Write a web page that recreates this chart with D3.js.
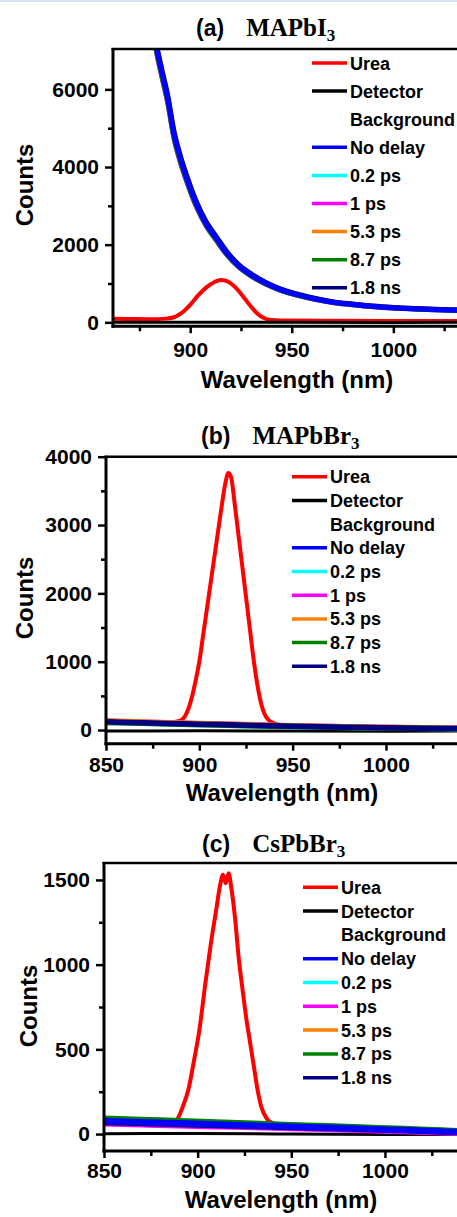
<!DOCTYPE html>
<html>
<head>
<meta charset="utf-8">
<script src="https://cdn.jsdelivr.net/npm/d3@7"></script>
<style>
  body { margin: 0; background: #fff; }
  svg { display: block; }
</style>
</head>
<body>
<div id="viz"></div>
<script>
// Legend entries and colours (shared by all three panels)
const seriesNames = ["Urea", "Detector", "No delay", "0.2 ps", "1 ps", "5.3 ps", "8.7 ps", "1.8 ns"];
const seriesColors = ["#ff0000", "#000000", "#0000ff", "#00ffff", "#ff00ff", "#ff8000", "#008000", "#000080"];

// ---- Panel (a) MAPbI3 ----
const wlUreaA = [862, 870, 880, 888, 892, 896, 900, 904, 908, 912, 915, 918, 921, 924, 927, 930, 933, 936, 940, 950, 970, 1000, 1040];
const ureaA = [90, 85, 80, 95, 130, 250, 450, 700, 900, 1040, 1090, 1060, 960, 800, 600, 400, 230, 120, 60, 45, 40, 35, 30];
const wlDetA = [862, 900, 950, 1000, 1040];
const detA = [0, 3, 0, -3, 0];
const wlA = [880, 883, 886, 889, 892, 895, 899, 903, 908, 913, 918, 924, 930, 937, 944, 952, 960, 970, 980, 990, 1000, 1010, 1020, 1030, 1040];
const noDelayA = [8300, 7200, 6450, 5750, 4850, 4250, 3600, 3050, 2520, 2150, 1780, 1450, 1220, 1010, 850, 720, 620, 520, 460, 410, 375, 350, 330, 315, 300];
const ps02A = [8250, 7150, 6400, 5700, 4800, 4200, 3560, 3020, 2500, 2120, 1760, 1430, 1200, 995, 840, 710, 612, 515, 455, 405, 370, 346, 326, 312, 297];
const ps1A = [8200, 7080, 6330, 5630, 4740, 4150, 3520, 2980, 2470, 2100, 1740, 1420, 1190, 990, 835, 705, 608, 512, 452, 402, 368, 344, 324, 310, 295];
const ps53A = [8320, 7220, 6470, 5770, 4870, 4270, 3620, 3070, 2540, 2165, 1795, 1460, 1230, 1020, 858, 728, 626, 526, 465, 414, 379, 354, 334, 318, 303];
const ps87A = [8220, 7100, 6360, 5660, 4770, 4170, 3540, 3000, 2480, 2110, 1750, 1425, 1195, 992, 838, 708, 610, 513, 453, 404, 369, 345, 325, 311, 296];
const ns18A = [8380, 7280, 6520, 5830, 4930, 4320, 3670, 3110, 2575, 2195, 1820, 1480, 1250, 1035, 870, 738, 635, 532, 470, 418, 382, 357, 336, 320, 305];

// ---- Panel (b) MAPbBr3 ----
const wlUreaB = [850, 860, 870, 880, 884, 888, 890, 892, 894, 896, 898, 900, 902, 904, 906, 908, 910, 912, 914, 915.5, 917, 919, 921, 923, 925, 927, 929, 931, 933, 935, 937, 940, 944, 950, 970, 1000, 1047];
const ureaB = [125, 118, 110, 105, 112, 125, 140, 190, 300, 480, 720, 1000, 1380, 1760, 2140, 2520, 2900, 3280, 3620, 3760, 3700, 3300, 2850, 2400, 1950, 1500, 1050, 680, 400, 230, 150, 100, 70, 55, 45, 35, 20];
const wlDetB = [850, 900, 950, 1000, 1047];
const detB = [-15, -12, -15, -18, -15];
const wlB = [850, 870, 890, 910, 930, 950, 970, 990, 1010, 1030, 1047];
const noDelayB = [125, 110, 97, 84, 70, 58, 48, 40, 33, 26, 21];
const ps02B = [115, 101, 88, 76, 63, 52, 43, 35, 28, 22, 17];
const ps1B = [130, 114, 100, 87, 73, 60, 50, 41, 34, 27, 22];
const ps53B = [135, 118, 103, 90, 76, 63, 52, 43, 36, 29, 23];
const ps87B = [112, 98, 86, 74, 61, 50, 41, 33, 27, 21, 16];
const ns18B = [120, 106, 93, 80, 67, 55, 46, 37, 31, 24, 19];

// ---- Panel (c) CsPbBr3 ----
const wlUreaC = [850, 860, 870, 880, 886, 889, 892, 895, 898, 901, 904, 907, 910, 912, 913.5, 915, 916.5, 918, 920, 922, 924, 926, 928, 930, 932, 934, 937, 940, 945, 960, 1000, 1047];
const ureaC = [75, 70, 66, 62, 65, 85, 160, 260, 430, 620, 880, 1120, 1330, 1470, 1530, 1480, 1540, 1450, 1270, 1030, 850, 680, 540, 400, 260, 160, 90, 65, 50, 40, 22, 8];
const wlDetC = [850, 900, 950, 1000, 1047];
const detC = [2, 3, 0, -2, -3];
const wlC = [850, 870, 890, 910, 930, 950, 970, 990, 1010, 1030, 1047];
const noDelayC = [78, 71, 65, 58, 51, 44, 38, 31, 24, 16, 10];
const ps02C = [82, 75, 68, 62, 55, 48, 41, 34, 27, 19, 12];
const ps1C = [62, 56, 50, 45, 40, 34, 28, 22, 16, 9, 3];
const ps53C = [86, 79, 72, 65, 58, 50, 43, 36, 28, 20, 13];
const ps87C = [92, 85, 77, 70, 62, 54, 47, 39, 31, 22, 15];
const ns18C = [70, 64, 58, 52, 46, 40, 34, 28, 22, 14, 8];

// Tick values
const yMajorA = [0, 2000, 4000, 6000];
const yMinorA = [1000, 3000, 5000];
const yMajorB = [0, 1000, 2000, 3000, 4000];
const yMinorB = [500, 1500, 2500, 3500];
const yMajorC = [0, 500, 1000, 1500];
const yMinorC = [250, 750, 1250];
const xMajorA = [900, 950, 1000];
const xMajorBC = [850, 900, 950, 1000];
const xMinor = [875, 925, 975, 1025];

// Panel layout (positions only). order = drawing order of the delay series
const panels = [
    {
        label: "(a)", formula: "MAPbI", titleX: 196, titleY: 36,
        left: 113, xRight: 474.6, top: 49, bottom: 326.2,
        xDomain: [862, 1040], yDomain: [-100, 7040],
        yMajor: yMajorA, yMinor: yMinorA, xMajor: xMajorA, xPad: 9,
        countsX: 33, countsY: 185, waveX: 297, waveY: 388,
        legendX: 312, legendY: 63, legendStep: 28.1, bandWidth: 5,
        order: [1, 2, 3, 4, 5, 0],
        urea: [wlUreaA, ureaA], det: [wlDetA, detA],
        delays: [wlA, [noDelayA, ps02A, ps1A, ps53A, ps87A, ns18A]]
    },
    {
        label: "(b)", formula: "MAPbBr", titleX: 201, titleY: 444,
        left: 106, xRight: 473.7, top: 456.7, bottom: 743.7,
        xDomain: [850, 1047], yDomain: [-200, 4000],
        yMajor: yMajorB, yMinor: yMinorB, xMajor: xMajorBC, xPad: 6.5,
        countsX: 33, countsY: 598, waveX: 282, waveY: 801,
        legendX: 292, legendY: 476.7, legendStep: 23.7, bandWidth: 5.5,
        order: [0, 1, 2, 3, 4, 5],
        urea: [wlUreaB, ureaB], det: [wlDetB, detB],
        delays: [wlB, [noDelayB, ps02B, ps1B, ps53B, ps87B, ns18B]]
    },
    {
        label: "(c)", formula: "CsPbBr", titleX: 202, titleY: 852,
        left: 104, xRight: 473, top: 863, bottom: 1151,
        xDomain: [850, 1047], yDomain: [-100, 1600],
        yMajor: yMajorC, yMinor: yMinorC, xMajor: xMajorBC, xPad: 5,
        countsX: 37, countsY: 1006, waveX: 281, waveY: 1208,
        legendX: 303, legendY: 887.3, legendStep: 23.8, bandWidth: 6,
        order: [2, 1, 3, 4, 5, 0],
        urea: [wlUreaC, ureaC], det: [wlDetC, detC],
        delays: [wlC, [noDelayC, ps02C, ps1C, ps53C, ps87C, ns18C]]
    }
];

const W = 457, H = 1217;
const sans = "'Liberation Sans', Arial, sans-serif";
const serif = "'Liberation Serif', 'Times New Roman', serif";

const svg = d3.select("#viz")
    .append("svg")
    .attr("width", W)
    .attr("height", H)
    .attr("viewBox", `0 0 ${W} ${H}`);

svg.append("rect").attr("width", W).attr("height", H).attr("fill", "#fff");
// thin light strip at the very top of the figure
svg.append("rect").attr("width", W).attr("height", 2).attr("fill", "#d4e3f1");

const defs = svg.append("defs");

function drawPanel(p, i) {
    const x = d3.scaleLinear().domain(p.xDomain).range([p.left, p.xRight]);
    const y = d3.scaleLinear().domain(p.yDomain).range([p.bottom, p.top]);
    const g = svg.append("g").attr("class", "panel");

    defs.append("clipPath").attr("id", "clip" + i)
        .append("rect")
        .attr("x", p.left).attr("y", p.top)
        .attr("width", p.xRight - p.left).attr("height", p.bottom - p.top);

    const line = (xs) => d3.line()
        .x((d, k) => x(xs[k]))
        .y(d => y(d))
        .curve(d3.curveMonotoneX);

    const plot = g.append("g").attr("clip-path", `url(#clip${i})`);

    // Urea
    plot.append("path")
        .attr("d", line(p.urea[0])(p.urea[1]))
        .attr("fill", "none")
        .attr("stroke", seriesColors[0])
        .attr("stroke-width", 4)
        .attr("stroke-linejoin", "round");

    // Detector background
    plot.append("path")
        .attr("d", line(p.det[0])(p.det[1]))
        .attr("fill", "none")
        .attr("stroke", seriesColors[1])
        .attr("stroke-width", 3);

    // Delay series
    p.order.forEach(k => {
        plot.append("path")
            .attr("d", line(p.delays[0])(p.delays[1][k]))
            .attr("fill", "none")
            .attr("stroke", seriesColors[k + 2])
            .attr("stroke-width", p.bandWidth)
            .attr("stroke-linejoin", "round");
    });

    // Axes
    g.append("g")
        .attr("transform", `translate(${p.left},0)`)
        .call(d3.axisLeft(y).tickValues(p.yMajor).tickSize(8).tickPadding(6).tickFormat(d3.format("d")));
    g.append("g")
        .attr("transform", `translate(${p.left},0)`)
        .call(d3.axisLeft(y).tickValues(p.yMinor).tickSize(5).tickFormat(""));
    g.append("g")
        .attr("transform", `translate(0,${p.bottom})`)
        .call(d3.axisBottom(x).tickValues(p.xMajor).tickSize(7).tickPadding(p.xPad).tickFormat(d3.format("d")));
    g.append("g")
        .attr("transform", `translate(0,${p.bottom})`)
        .call(d3.axisBottom(x).tickValues(xMinor).tickSize(5).tickFormat(""));

    g.selectAll(".domain").remove();
    g.selectAll(".tick line").attr("stroke", "#000").attr("stroke-width", 2.5);
    g.selectAll(".tick text")
        .attr("fill", "#000")
        .style("font-family", sans)
        .style("font-weight", "bold")
        .style("font-size", "21px");

    // Frame: left, bottom, top
    g.append("line")
        .attr("x1", p.left).attr("x2", p.left)
        .attr("y1", p.top - 1).attr("y2", p.bottom + 1.5)
        .attr("stroke", "#000").attr("stroke-width", 3);
    g.append("line")
        .attr("x1", p.left - 1.5).attr("x2", W + 5)
        .attr("y1", p.bottom).attr("y2", p.bottom)
        .attr("stroke", "#000").attr("stroke-width", 3);
    g.append("line")
        .attr("x1", p.left - 1.5).attr("x2", W + 5)
        .attr("y1", p.top).attr("y2", p.top)
        .attr("stroke", "#000").attr("stroke-width", 2.5);

    // Title
    const title = g.append("text")
        .attr("x", p.titleX).attr("y", p.titleY)
        .attr("fill", "#000");
    title.append("tspan")
        .style("font-family", sans).style("font-weight", "bold").style("font-size", "23px")
        .text(p.label);
    title.append("tspan")
        .attr("dx", 22)
        .style("font-family", serif).style("font-weight", "bold").style("font-size", "25px")
        .text(p.formula);
    title.append("tspan")
        .attr("dy", 5)
        .style("font-family", serif).style("font-weight", "bold").style("font-size", "17px")
        .text("3");

    // Axis titles
    g.append("text")
        .attr("transform", `translate(${p.countsX},${p.countsY}) rotate(-90)`)
        .attr("text-anchor", "middle")
        .style("font-family", sans).style("font-weight", "bold").style("font-size", "24px")
        .text("Counts");
    g.append("text")
        .attr("x", p.waveX).attr("y", p.waveY)
        .attr("text-anchor", "middle")
        .style("font-family", sans).style("font-weight", "bold").style("font-size", "24px")
        .text("Wavelength (nm)");

    // Legend: Detector label wraps onto a second row ("Background")
    const rows = [
        {name: seriesNames[0], color: seriesColors[0], row: 0},
        {name: seriesNames[1], color: seriesColors[1], row: 1},
        {name: "Background", color: null, row: 2}
    ];
    seriesNames.slice(2).forEach((n, k) => rows.push({name: n, color: seriesColors[k + 2], row: k + 3}));

    const legend = g.append("g").attr("class", "legend");
    legend.selectAll("line")
        .data(rows.filter(r => r.color))
        .join("line")
        .attr("x1", p.legendX).attr("x2", p.legendX + 35)
        .attr("y1", r => p.legendY + r.row * p.legendStep)
        .attr("y2", r => p.legendY + r.row * p.legendStep)
        .attr("stroke", r => r.color)
        .attr("stroke-width", 3.5);
    legend.selectAll("text")
        .data(rows)
        .join("text")
        .attr("x", p.legendX + 38)
        .attr("y", r => p.legendY + r.row * p.legendStep + 6.5)
        .style("font-family", sans).style("font-weight", "bold").style("font-size", "18px")
        .text(r => r.name);
}

panels.forEach(drawPanel);
</script>
</body>
</html>
